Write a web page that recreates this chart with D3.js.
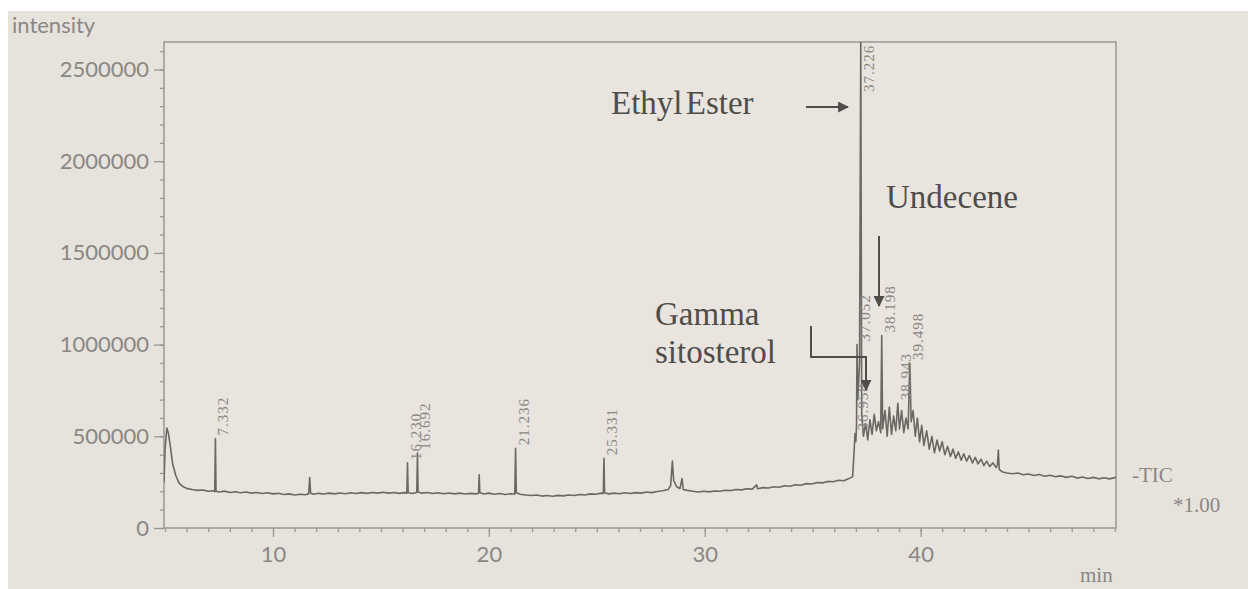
<!DOCTYPE html>
<html>
<head>
<meta charset="utf-8">
<script src="https://cdn.jsdelivr.net/npm/d3@7"></script>
<style>
  html, body { margin: 0; padding: 0; background: #fff; }
  svg { display: block; }
</style>
</head>
<body>
<div id="container"></div>
<script>
const WIDTH = 1248;
const HEIGHT = 589;
const PLOT = { LEFT: 164, RIGHT: 1116, TOP: 42, BOTTOM: 528 };

// TIC trace: [retention time (min), intensity]
const tic = [
  [4.95, 250000], [5.0, 430000], [5.08, 545000], [5.15, 520000], [5.25, 440000], [5.35, 350000],
  [5.5, 285000], [5.65, 245000], [5.8, 228000], [6.0, 216000], [6.25, 210000], [6.5, 205000],
  [6.75, 207000], [7.0, 200000], [7.25, 203000], [7.3, 198000], [7.332, 488000], [7.36, 200000],
  [7.5, 196000], [7.75, 201000], [8.0, 194000], [8.25, 198000], [8.5, 192000], [8.75, 196000],
  [9.0, 190000], [9.25, 194000], [9.5, 188000], [9.75, 192000], [10.0, 186000], [10.25, 189000],
  [10.5, 183000], [10.75, 186000], [11.0, 180000], [11.25, 184000], [11.5, 181000], [11.65, 186000],
  [11.7, 275000], [11.74, 190000], [11.9, 184000], [12.1, 189000], [12.35, 185000], [12.6, 190000],
  [12.85, 186000], [13.1, 191000], [13.35, 187000], [13.6, 192000], [13.85, 188000], [14.1, 193000],
  [14.35, 189000], [14.6, 194000], [14.85, 190000], [15.1, 195000], [15.35, 190000], [15.6, 194000],
  [15.85, 189000], [16.1, 193000], [16.2, 190000], [16.23, 355000], [16.26, 192000], [16.45, 188000],
  [16.66, 194000], [16.692, 410000], [16.72, 196000], [16.9, 190000], [17.15, 194000], [17.4, 188000],
  [17.65, 192000], [17.9, 187000], [18.15, 191000], [18.4, 186000], [18.65, 190000], [18.9, 185000],
  [19.15, 189000], [19.4, 186000], [19.52, 190000], [19.55, 290000], [19.58, 194000], [19.75, 185000],
  [20.0, 190000], [20.25, 184000], [20.5, 188000], [20.75, 183000], [21.0, 187000], [21.2, 185000],
  [21.236, 435000], [21.27, 192000], [21.45, 184000], [21.7, 180000], [21.95, 177000], [22.2, 180000],
  [22.45, 174000], [22.7, 177000], [22.95, 173000], [23.2, 178000], [23.45, 175000], [23.7, 180000],
  [23.95, 177000], [24.2, 183000], [24.45, 180000], [24.7, 186000], [24.95, 184000], [25.2, 190000],
  [25.3, 188000], [25.331, 380000], [25.36, 192000], [25.55, 186000], [25.8, 190000], [26.05, 187000],
  [26.3, 192000], [26.55, 188000], [26.8, 193000], [27.05, 190000], [27.3, 196000], [27.55, 193000],
  [27.8, 199000], [28.05, 203000], [28.3, 210000], [28.42, 230000], [28.5, 365000], [28.56, 260000],
  [28.7, 225000], [28.85, 215000], [28.95, 270000], [29.0, 210000], [29.2, 205000], [29.45, 200000],
  [29.7, 196000], [29.95, 200000], [30.2, 197000], [30.45, 202000], [30.7, 200000], [30.95, 206000],
  [31.2, 204000], [31.45, 210000], [31.7, 208000], [31.95, 214000], [32.2, 212000], [32.4, 235000],
  [32.45, 214000], [32.7, 220000], [32.95, 218000], [33.2, 225000], [33.45, 222000], [33.7, 230000],
  [33.95, 228000], [34.2, 236000], [34.45, 233000], [34.7, 242000], [34.95, 240000], [35.2, 248000],
  [35.45, 246000], [35.7, 254000], [35.95, 252000], [36.2, 260000], [36.45, 258000], [36.65, 268000],
  [36.85, 280000], [36.92, 420000], [36.958, 515000], [37.0, 470000], [37.03, 560000], [37.052, 1000000],
  [37.09, 700000], [37.17, 900000], [37.226, 2650000], [37.27, 620000], [37.35, 500000], [37.45, 570000],
  [37.55, 480000], [37.65, 590000], [37.75, 510000], [37.85, 620000], [37.95, 530000], [38.05, 580000],
  [38.15, 520000], [38.198, 1050000], [38.24, 540000], [38.35, 640000], [38.45, 500000], [38.55, 660000],
  [38.65, 510000], [38.75, 610000], [38.85, 530000], [38.943, 680000], [39.02, 540000], [39.12, 640000],
  [39.22, 520000], [39.32, 600000], [39.42, 540000], [39.498, 900000], [39.56, 580000], [39.65, 640000],
  [39.75, 500000], [39.85, 600000], [39.95, 470000], [40.05, 560000], [40.15, 450000], [40.28, 530000],
  [40.4, 430000], [40.52, 500000], [40.64, 410000], [40.76, 480000], [40.88, 420000], [41.0, 470000],
  [41.12, 400000], [41.25, 445000], [41.38, 390000], [41.5, 430000], [41.62, 380000], [41.75, 415000],
  [41.88, 370000], [42.0, 405000], [42.13, 365000], [42.26, 395000], [42.4, 355000], [42.53, 385000],
  [42.66, 350000], [42.8, 375000], [42.93, 340000], [43.06, 365000], [43.2, 335000], [43.35, 355000],
  [43.5, 330000], [43.56, 345000], [43.6, 425000], [43.64, 320000], [43.8, 305000], [44.0, 300000],
  [44.25, 296000], [44.5, 300000], [44.75, 290000], [45.0, 294000], [45.25, 286000], [45.5, 292000],
  [45.75, 282000], [46.0, 288000], [46.25, 280000], [46.5, 284000], [46.75, 276000], [47.0, 282000],
  [47.25, 272000], [47.5, 278000], [47.75, 270000], [48.0, 276000], [48.25, 268000], [48.5, 274000],
  [48.75, 268000], [49.05, 276000]
];

// labelled peaks
const peakTimes = [7.332, 16.23, 16.692, 21.236, 25.331, 36.958, 37.052, 37.226, 38.198, 38.943, 39.498];
const peakLabels = ['7.332', '16.230', '16.692', '21.236', '25.331', '36.958', '37.052', '37.226', '38.198', '38.943', '39.498'];

const yTicks = [0, 500000, 1000000, 1500000, 2000000, 2500000];
const xTicks = [10, 20, 30, 40];

const trace = tic.map(d => ({ t: d[0], v: d[1] }));

const svg = d3.select('#container')
              .append('svg')
                .attr('width', WIDTH)
                .attr('height', HEIGHT);

// photo paper
svg.append('rect')
     .attr('x', 8).attr('y', 11)
     .attr('width', WIDTH - 8).attr('height', HEIGHT - 11)
     .attr('fill', '#e6e2dc');

const x = d3.scaleLinear().domain([4.95, 49.05]).range([PLOT.LEFT, PLOT.RIGHT]);
const y = d3.scaleLinear().domain([0, 2650000]).range([PLOT.BOTTOM, PLOT.TOP]);

svg.append('rect')
     .attr('x', PLOT.LEFT).attr('y', PLOT.TOP)
     .attr('width', PLOT.RIGHT - PLOT.LEFT).attr('height', PLOT.BOTTOM - PLOT.TOP)
     .attr('fill', '#e9e4de')
     .attr('stroke', '#9a9794')
     .attr('stroke-width', 1.5);

const tickFont = g => g.selectAll('text')
                        .attr('font-family', 'Lato, "Open Sans", sans-serif')
                        .attr('font-size', 22)
                        .attr('fill', '#8a8784');

// y axis, minor then major
svg.append('g')
     .attr('transform', `translate(${PLOT.LEFT}, 0)`)
     .call(d3.axisLeft(y).tickValues(d3.range(0, 2600001, 100000)).tickSize(4).tickFormat(''))
     .call(g => g.select('.domain').remove())
     .call(g => g.selectAll('line').attr('stroke', '#9a9794').attr('stroke-width', 1.3));

svg.append('g')
     .attr('transform', `translate(${PLOT.LEFT}, 0)`)
     .call(d3.axisLeft(y).tickValues(yTicks).tickSize(10).tickPadding(5).tickFormat(d3.format('d')))
     .call(g => g.select('.domain').remove())
     .call(g => g.selectAll('line').attr('stroke', '#9a9794').attr('stroke-width', 1.3))
     .call(tickFont);

// x axis
svg.append('g')
     .attr('transform', `translate(0, ${PLOT.BOTTOM})`)
     .call(d3.axisBottom(x).tickValues(d3.range(5, 50)).tickSize(4).tickFormat(''))
     .call(g => g.select('.domain').remove())
     .call(g => g.selectAll('line').attr('stroke', '#9a9794').attr('stroke-width', 1.3));

svg.append('g')
     .attr('transform', `translate(0, ${PLOT.BOTTOM})`)
     .call(d3.axisBottom(x).tickValues(xTicks).tickSize(9).tickPadding(9))
     .call(g => g.select('.domain').remove())
     .call(g => g.selectAll('line').attr('stroke', '#9a9794').attr('stroke-width', 1.3))
     .call(tickFont);

svg.append('clipPath')
     .attr('id', 'plot-clip')
   .append('rect')
     .attr('x', PLOT.LEFT).attr('y', PLOT.TOP)
     .attr('width', PLOT.RIGHT - PLOT.LEFT).attr('height', PLOT.BOTTOM - PLOT.TOP);

const line = d3.line()
               .x(d => x(d.t))
               .y(d => y(d.v));

svg.append('path')
     .datum(trace)
     .attr('clip-path', 'url(#plot-clip)')
     .attr('d', line)
     .attr('fill', 'none')
     .attr('stroke', '#6b6864')
     .attr('stroke-width', 1.6)
     .attr('stroke-linejoin', 'round');

// retention time labels, vertical, reading upward
const LABEL_LEN = 47;
svg.append('g')
   .selectAll('text')
   .data(peakTimes)
   .enter()
   .append('text')
     .attr('transform', t => {
         const v = trace.find(d => d.t === t).v;
         const base = Math.max(y(v) - 3, PLOT.TOP + 3 + LABEL_LEN);
         return `translate(${x(t) + 13}, ${base}) rotate(-90)`;
     })
     .attr('font-family', '"Liberation Serif", serif')
     .attr('font-size', 15)
     .attr('letter-spacing', 1)
     .attr('fill', '#8a8784')
     .text((t, i) => peakLabels[i]);

// frame texts
const plain = (txt, px, py, size, family) =>
    svg.append('text')
         .attr('x', px).attr('y', py)
         .attr('font-family', family || 'Lato, "Open Sans", sans-serif')
         .attr('font-size', size)
         .attr('fill', '#8a8784')
         .text(txt);

plain('intensity', 12, 33, 22);
plain('-TIC', 1132, 482, 21, '"Liberation Serif", serif');
plain('*1.00', 1173, 512, 21, '"Liberation Serif", serif');
plain('min', 1080, 582, 21, '"Liberation Serif", serif');

// compound annotations
const ANN = '#4f4d4a';
const defs = svg.append('defs');
defs.append('marker')
      .attr('id', 'head')
      .attr('viewBox', '0 0 10 10')
      .attr('refX', 9).attr('refY', 5)
      .attr('markerWidth', 5.5).attr('markerHeight', 5.5)
      .attr('orient', 'auto')
    .append('path')
      .attr('d', 'M0,0 L10,5 L0,10 z')
      .attr('fill', ANN);

const note = (txt, px, py) =>
    svg.append('text')
         .attr('x', px).attr('y', py)
         .attr('font-family', '"Liberation Serif", "Times New Roman", serif')
         .attr('font-size', 33)
         .attr('fill', ANN)
         .text(txt);

const arrow = pts =>
    svg.append('path')
         .attr('d', d3.line()(pts))
         .attr('fill', 'none')
         .attr('stroke', ANN)
         .attr('stroke-width', 2)
         .attr('marker-end', 'url(#head)');

note('Ethyl Ester', 611, 114).attr('word-spacing', -5);
arrow([[806, 107], [848, 107]]);

note('Undecene', 886, 208);
arrow([[879, 236], [879, 306]]);

note('Gamma', 655, 325);
note('sitosterol', 655, 363);
arrow([[811, 326], [811, 357], [866, 357], [866, 390]]);
</script>
</body>
</html>
